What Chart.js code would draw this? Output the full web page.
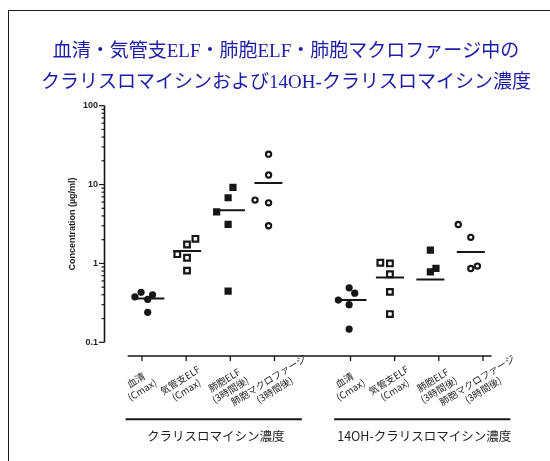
<!DOCTYPE html>
<html lang="ja">
<head>
<meta charset="utf-8">
<title>血清・気管支ELF・肺胞ELF・肺胞マクロファージ中のクラリスロマイシン濃度</title>
<script src="https://cdn.jsdelivr.net/npm/chart.js@4/dist/chart.umd.min.js"></script>
<style>
  html, body { margin: 0; padding: 0; background: #fff; }
  #wrap { position: relative; width: 550px; height: 461px; overflow: hidden; }
  #frame { position: absolute; left: 8px; top: 10px; width: 700px; height: 600px;
           border-left: 1.6px solid #1e1e1e; border-top: 1.6px solid #1e1e1e; }
  #c { position: absolute; left: 0; top: 0; }
</style>
</head>
<body>
<div id="wrap">
  <div id="frame"></div>
  <canvas id="c" width="550" height="461"></canvas>
</div>
<script>
// ---- data ----
const titleLines = ['血清・気管支ELF・肺胞ELF・肺胞マクロファージ中の', 'クラリスロマイシンおよび14OH-クラリスロマイシン濃度'];
const yAxisTitle = 'Concentration (µg/ml)';
const yTickValues = [0.1, 1, 10, 100];

const categoryLabels = [
  ['血清', '(Cmax)'],
  ['気管支ELF', '(Cmax)'],
  ['肺胞ELF', '(3時間後)'],
  ['肺胞マクロファージ', '(3時間後)'],
  ['血清', '(Cmax)'],
  ['気管支ELF', '(Cmax)'],
  ['肺胞ELF', '(3時間後)'],
  ['肺胞マクロファージ', '(3時間後)']
];
const groupLabels = ['クラリスロマイシン濃度', '14OH-クラリスロマイシン濃度'];

// clarithromycin (µg/ml)
const clarSerum        = [0.377, 0.43, 0.35, 0.40, 0.24];
const clarBronchialELF = [1.31, 1.74, 2.05, 1.18, 0.81];
const clarAlveolarELF  = [9.2, 6.8, 4.5, 3.12, 0.446];
const clarMacrophage   = [24.3, 13.2, 6.35, 5.86, 3.0];
// 14-hydroxy clarithromycin (µg/ml)
const ohSerum          = [0.49, 0.42, 0.343, 0.30, 0.147];
const ohBronchialELF   = [1.02, 1.0, 0.73, 0.436, 0.228];
const ohAlveolarELF    = [1.47, 0.865, 0.783];
const ohMacrophage     = [3.12, 2.14, 0.864, 0.925];
// median bar per category
const medians = [0.36, 1.44, 4.74, 10.5, 0.343, 0.664, 0.627, 1.40];

// ---- layout / style ----
// category slots on the x axis (second group sits after a gap)
const slots = [1, 2, 3, 4, 5.72, 6.72, 7.72, 8.72];
// horizontal scatter of the dots inside each slot, in slot units
const spread = [
  [-0.16, -0.02, 0.13, 0.24, 0.13],
  [-0.20, 0.02, 0.21, 0.02, 0.02],
  [0.06, -0.05, -0.31, -0.05, -0.05],
  [-0.134, -0.134, -0.44, -0.134, -0.134],
  [-0.03, 0.096, -0.275, -0.03, -0.03],
  [-0.324, -0.107, -0.107, -0.107, -0.107],
  [-0.192, -0.065, -0.192],
  [-0.56, -0.277, -0.277, -0.127]
];
const medianShift = [0.19, 0.022, 0.016, -0.138, 0.045, -0.107, -0.192, -0.277];
const medianHalf = 0.317;

const ink = '#161616';
const markers = [
  { style: 'circle', radius: 3.6, fill: ink,    border: ink, bw: 0 },
  { style: 'rect',   radius: 4.0, fill: '#fff', border: ink, bw: 2.2 },
  { style: 'rect',   radius: 5.1, fill: ink,    border: ink, bw: 0 },
  { style: 'circle', radius: 2.6, fill: '#fff', border: ink, bw: 2.2 }
];

const seriesValues = [clarSerum, clarBronchialELF, clarAlveolarELF, clarMacrophage,
                      ohSerum, ohBronchialELF, ohAlveolarELF, ohMacrophage];

// median bars as one line dataset with gaps between categories
const medianData = [];
medians.forEach((m, i) => {
  const cx = slots[i] + medianShift[i];
  medianData.push({ x: cx - medianHalf, y: m }, { x: cx + medianHalf, y: m }, { x: cx, y: null });
});

const datasets = [{
  type: 'line',
  data: medianData,
  borderColor: ink,
  borderWidth: 2,
  pointRadius: 0,
  spanGaps: false,
  fill: false
}];
seriesValues.forEach((vals, i) => {
  const mk = markers[i % 4];
  datasets.push({
    type: 'scatter',
    data: vals.map((v, j) => ({ x: slots[i] + spread[i][j], y: v })),
    pointStyle: mk.style,
    pointRadius: mk.radius,
    backgroundColor: mk.fill,
    borderColor: mk.border,
    borderWidth: mk.bw
  });
});

// axis extents in slot units
const xAxisFrom = 0.676, xAxisTo = 8.913;
const xAxisDrop = 13.7;   // gap between lowest y value and the x axis line
const groupSpans = [[0, 3], [4, 7]];

const axesPlugin = {
  id: 'prismAxes',
  afterDraw(chart) {
    const { ctx, chartArea, scales: { x, y } } = chart;
    ctx.save();
    ctx.strokeStyle = ink;
    ctx.fillStyle = '#1e1e1e';
    ctx.lineCap = 'butt';

    // y axis with decade and sub-decade ticks
    const ax = chartArea.left;
    ctx.lineWidth = 1.6;
    ctx.beginPath();
    ctx.moveTo(ax, y.getPixelForValue(100));
    ctx.lineTo(ax, y.getPixelForValue(0.1));
    ctx.stroke();
    ctx.lineWidth = 1.2;
    for (let e = -1; e <= 1; e++) {
      for (let m = 1; m <= 9; m++) {
        const py = y.getPixelForValue(m * Math.pow(10, e));
        const len = m === 1 ? 5.5 : 3;
        ctx.beginPath(); ctx.moveTo(ax - len, py); ctx.lineTo(ax, py); ctx.stroke();
      }
    }
    const pTop = y.getPixelForValue(100);
    ctx.beginPath(); ctx.moveTo(ax - 5.5, pTop); ctx.lineTo(ax, pTop); ctx.stroke();

    // x axis line and category ticks
    const xy = chartArea.bottom + xAxisDrop;
    ctx.lineWidth = 1.6;
    ctx.beginPath();
    ctx.moveTo(x.getPixelForValue(xAxisFrom), xy);
    ctx.lineTo(x.getPixelForValue(xAxisTo), xy);
    ctx.stroke();
    ctx.lineWidth = 1.3;
    slots.forEach(s => {
      const px = x.getPixelForValue(s);
      ctx.beginPath(); ctx.moveTo(px, xy); ctx.lineTo(px, xy + 5); ctx.stroke();
    });

    // rotated two-line category labels
    ctx.font = '9.6px "Noto Sans CJK JP", sans-serif';
    ctx.textAlign = 'center';
    ctx.textBaseline = 'middle';
    const ang = -32 * Math.PI / 180;
    const lh = 11.5;
    categoryLabels.forEach((lines, i) => {
      const px = x.getPixelForValue(slots[i]);
      ctx.save();
      ctx.translate(px - 3, xy + 29);
      ctx.rotate(ang);
      lines.forEach((t, k) => ctx.fillText(t, 0, (k - (lines.length - 1) / 2) * lh));
      ctx.restore();
    });

    // group brackets and their captions
    const by = chartArea.bottom + 77;
    ctx.lineWidth = 2;
    ctx.font = '12.5px "Noto Sans CJK JP", sans-serif';
    groupSpans.forEach(([a, b], g) => {
      const x0 = x.getPixelForValue(slots[a] - 0.37);
      const x1 = x.getPixelForValue(slots[b] + 0.62);
      ctx.beginPath(); ctx.moveTo(x0, by); ctx.lineTo(x1, by); ctx.stroke();
      ctx.fillText(groupLabels[g], (x0 + x1) / 2 + 2, by + 17);
    });
    ctx.restore();
  }
};

new Chart(document.getElementById('c'), {
  data: { datasets },
  options: {
    responsive: false,
    animation: false,
    layout: { padding: { left: 22, right: 0, top: 0, bottom: 118.7 } },
    plugins: {
      legend: { display: false },
      tooltip: { enabled: false },
      title: {
        display: true,
        text: titleLines,
        color: '#1c1ca4',
        font: { family: '"Liberation Serif", "Noto Sans CJK JP", serif', size: 19, weight: 'normal', lineHeight: 1.66 },
        padding: { top: 36, bottom: 6.6 }
      }
    },
    scales: {
      x: {
        type: 'linear',
        min: 0.152,
        max: 10.096,
        display: false
      },
      y: {
        type: 'logarithmic',
        min: 0.1,
        max: 100,
        afterFit(scale) { scale.width = 82.5; },
        afterBuildTicks(scale) { scale.ticks = yTickValues.map(v => ({ value: v })); },
        border: { display: false },
        grid: { display: false, drawTicks: false },
        ticks: {
          padding: 6.5,
          color: '#1e1e1e',
          font: { family: '"Liberation Sans", Arial, sans-serif', size: 9, weight: 'bold' },
          callback: v => String(v)
        },
        title: {
          display: true,
          text: yAxisTitle,
          color: '#1e1e1e',
          font: { family: '"Liberation Sans", Arial, sans-serif', size: 9, weight: 'bold' },
          padding: { top: 45, bottom: 0 }
        }
      }
    }
  },
  plugins: [axesPlugin]
});
</script>
</body>
</html>
